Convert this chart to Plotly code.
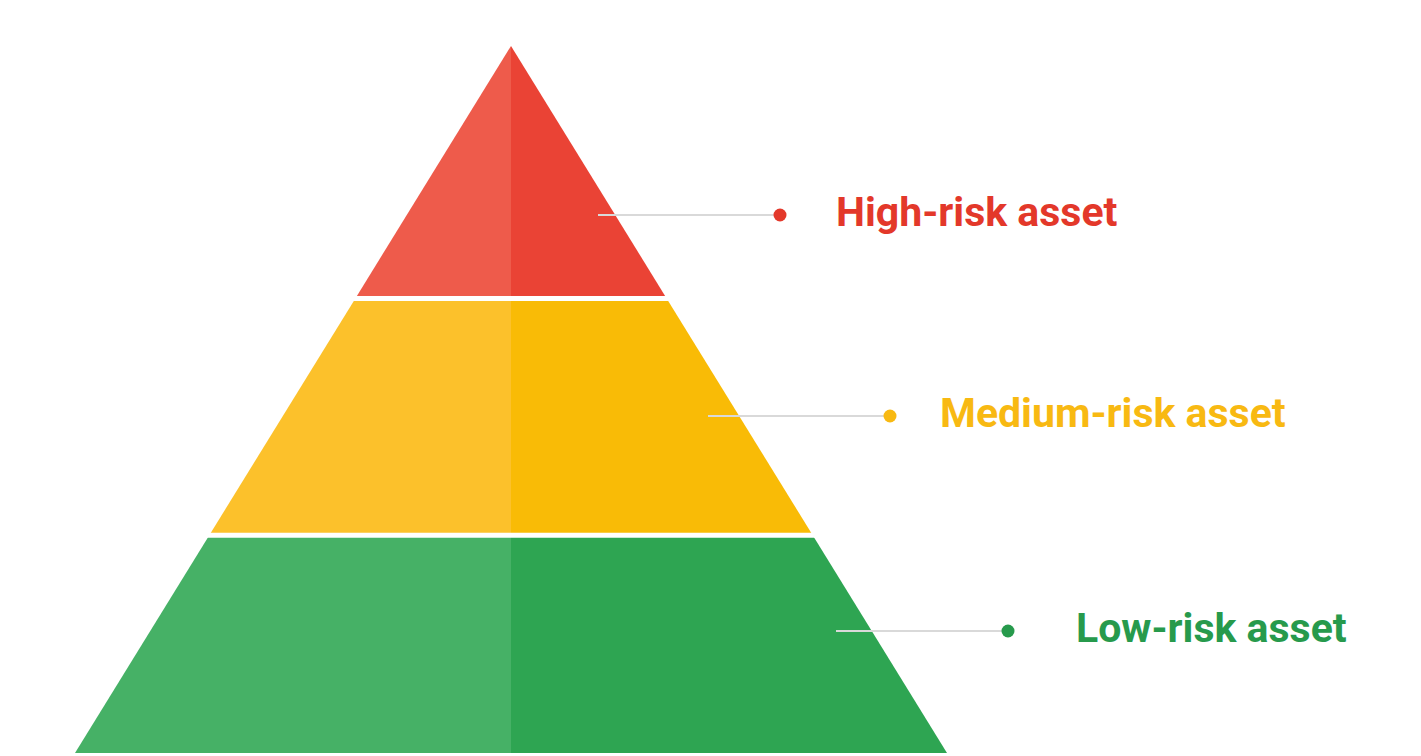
import plotly.graph_objects as go

# --- Data ---
tiers = ["High-risk asset", "Medium-risk asset", "Low-risk asset"]
tier_edges = [0.0, 0.357, 0.692, 1.0]          # fraction of height from apex
left_colors = ["#EE5B4B", "#FCC12B", "#46B166"]
right_colors = ["#EA4335", "#F9BB06", "#2EA552"]
text_colors = ["#E3382A", "#F8B912", "#279A4C"]
label_rows = [207, 408, 623]                    # label row y (px)
line_starts = [590, 700, 828]
dot_x = [772, 882, 1000]
text_x = [826, 930, 1066]

# --- Geometry of the pyramid (pixel canvas) ---
W, H = 1421, 756
APEX_X, APEX_Y, BASE_Y, HALF_BASE = 503, 38, 745, 436


def y_at(f):
    return APEX_Y + f * (BASE_Y - APEX_Y)


def half_w(f):
    return HALF_BASE * f


fig = go.Figure()

for i, name in enumerate(tiers):
    f0, f1 = tier_edges[i], tier_edges[i + 1]
    y0, y1 = y_at(f0), y_at(f1)
    # left half
    fig.add_trace(go.Scatter(
        x=[APEX_X - half_w(f0), APEX_X, APEX_X, APEX_X - half_w(f1), APEX_X - half_w(f0)],
        y=[y0, y0, y1, y1, y0],
        fill="toself", fillcolor=left_colors[i], mode="lines",
        line=dict(color=left_colors[i], width=0), hoverinfo="skip", showlegend=False))
    # right half
    fig.add_trace(go.Scatter(
        x=[APEX_X, APEX_X + half_w(f0), APEX_X + half_w(f1), APEX_X, APEX_X],
        y=[y0, y0, y1, y1, y0],
        fill="toself", fillcolor=right_colors[i], mode="lines",
        line=dict(color=right_colors[i], width=0), hoverinfo="skip", showlegend=False))

# white separators between tiers
for f in tier_edges[1:-1]:
    fig.add_trace(go.Scatter(
        x=[APEX_X - half_w(f) - 6, APEX_X + half_w(f) + 6], y=[y_at(f), y_at(f)],
        mode="lines", line=dict(color="white", width=5), hoverinfo="skip", showlegend=False))

# connectors, dots and labels
for i, name in enumerate(tiers):
    yy = label_rows[i]
    fig.add_trace(go.Scatter(
        x=[line_starts[i], dot_x[i]], y=[yy, yy], mode="lines",
        line=dict(color="#D9D9D9", width=2), hoverinfo="skip", showlegend=False))
    fig.add_trace(go.Scatter(
        x=[dot_x[i]], y=[yy], mode="markers",
        marker=dict(color=text_colors[i], size=13), hoverinfo="skip", showlegend=False))
    fig.add_annotation(
        x=text_x[i], y=yy - 3, text=f"<b>{name}</b>", showarrow=False,
        xanchor="left", yanchor="middle",
        font=dict(family="Roboto", size=41, color=text_colors[i]))

fig.update_xaxes(range=[0, W], visible=False, fixedrange=True)
fig.update_yaxes(range=[H, 0], visible=False, fixedrange=True)
fig.update_layout(
    width=W, height=H,
    margin=dict(l=0, r=0, t=0, b=0),
    plot_bgcolor="white", paper_bgcolor="white",
)

fig.write_html("out.html")
